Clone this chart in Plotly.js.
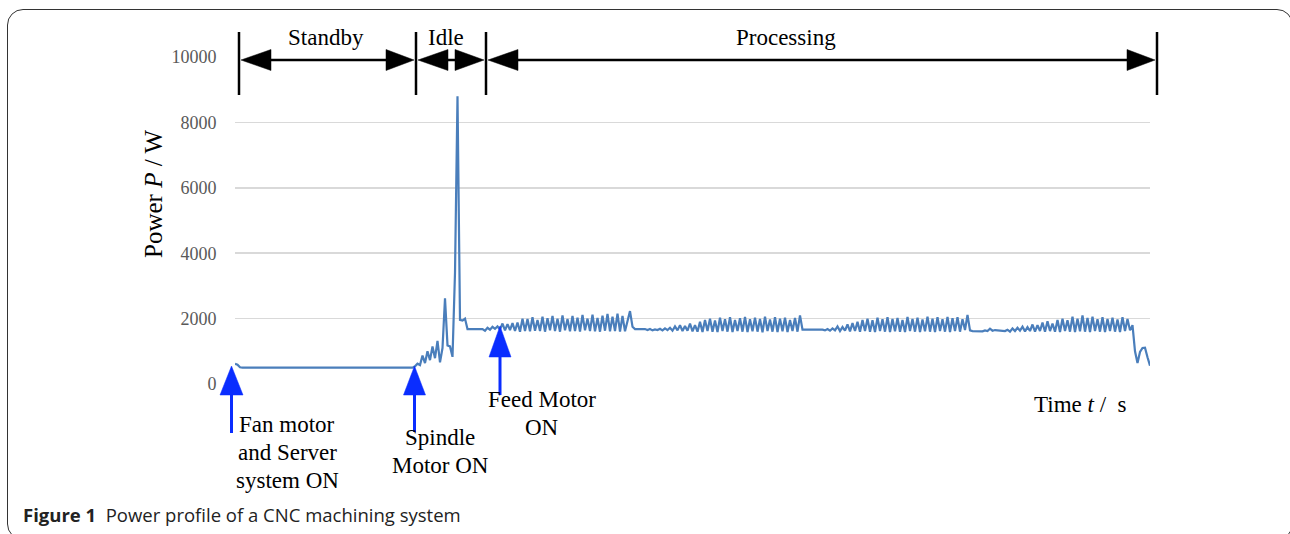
<!DOCTYPE html>
<html>
<head>
<meta charset="utf-8">
<script src="https://cdn.plot.ly/plotly-3.0.1.min.js"></script>
<style>
  html, body { margin:0; padding:0; background:#fff; overflow:hidden; }
  #wrap { position:relative; width:1290px; height:534px; }
  #chart { position:absolute; left:0; top:0; width:1290px; height:534px; }
  #frame { position:absolute; left:7px; top:9px; width:1286px; height:531px; box-sizing:border-box;
           border:1.5px solid #333; border-radius:16px; pointer-events:none; }
</style>
</head>
<body>
<div id="wrap">
  <div id="chart"></div>
  <div id="frame"></div>
</div>
<script>
// ---- data (time index in seconds-steps, power in W) ----
const standbyTime  = [0, 1, 2, 3, 71];
const standbyPower = [620, 590, 510, 500, 500];

const idleTime  = [72, 73, 74, 75, 76, 77, 78, 79, 80, 81, 82, 83, 84, 85, 86, 87, 88, 89, 90, 91, 92, 93, 99];
const idlePower = [540, 620, 580, 870, 640, 1000, 730, 1150, 790, 1320, 660, 1100, 2620, 1180, 1150, 830, 3400, 8800, 1960, 1940, 2000, 1680, 1680];

const proc1Time  = [100,101,102,103,104,105,106,107,108,109,110,111,112,113,114,115,116,117,118,119,120,121,122,123,124,125,126,127,128,129,130,131,132,133,134,135,136,137,138,139,140,141,142,143,144,145,146,147,148,149,150,151,152,153,154,155,156,157,158,159,160,164];
const proc1Power = [1630,1720,1660,1750,1690,1760,1670,1850,1640,1830,1650,1860,1620,1880,1600,2000,1620,1990,1610,2040,1630,1960,1620,2060,1600,2010,1640,2080,1620,2000,1600,2100,1640,1990,1610,2080,1620,2030,1600,2110,1640,2000,1620,2120,1610,2020,1600,2090,1630,2140,1610,2060,1620,2150,1600,2080,1610,1900,2230,1750,1680,1680];

const proc2Time  = [165,166,167,168,169,170,171,172,173,174,175,176,177,178,179,180,181,182,183,184,185,186,187,188,189,190,191,192,193,194,195,196,197,198,199,200,201,202,203,204,205,206,207,208,209,210,211,212,213,214,215,216,217,218,219,220,221,222,223,224,225,226,227,235];
const proc2Power = [1650,1680,1640,1670,1650,1690,1640,1700,1650,1720,1630,1760,1640,1800,1620,1770,1630,1850,1610,1800,1600,1900,1590,1960,1620,2000,1600,1940,1590,2030,1620,1980,1600,2040,1590,1960,1620,2010,1600,2050,1590,1980,1610,2030,1600,1990,1580,2060,1620,1970,1600,2040,1590,2000,1610,2030,1590,1960,1620,2020,1600,2100,1660,1660];

const proc3Time  = [236,237,238,239,240,241,242,243,244,245,246,247,248,249,250,251,252,253,254,255,256,257,258,259,260,261,262,263,264,265,266,267,268,269,270,271,272,273,274,275,276,277,278,279,280,281,282,283,284,285,286,287,288,289,290,291,292,293,294,295,298,299,300,301,302,303,304,305,306,308];
const proc3Power = [1640,1680,1630,1700,1640,1760,1620,1740,1630,1820,1610,1860,1620,1900,1600,1960,1620,2000,1600,1950,1590,2030,1620,1980,1600,2040,1590,1990,1610,2020,1600,1960,1590,2050,1620,1990,1600,2030,1590,1970,1610,2060,1600,2000,1590,2040,1620,1980,1600,2050,1590,2010,1620,2040,1600,1980,1650,2110,1640,1620,1620,1610,1640,1620,1690,1630,1650,1640,1630,1620];

const proc4Time  = [309,310,311,312,313,314,315,316,317,318,319,320,321,322,323,324,325,326,327,328,329,330,331,332,333,334,335,336,337,338,339,340,341,342,343,344,345,346,347,348,349,350,351,352,353,354,355,356,357,358,359,360,361,362,363,364,365,366];
const proc4Power = [1660,1600,1700,1620,1720,1630,1750,1610,1740,1620,1820,1600,1800,1620,1880,1600,1920,1620,1850,1600,1960,1590,2000,1620,1950,1600,2060,1590,2000,1610,2100,1600,2020,1590,2060,1620,1980,1600,2040,1590,1990,1620,2030,1600,1970,1590,2040,1620,1990,1640,1800,1000,640,980,1100,1110,820,560];

const timeAll  = [].concat(standbyTime, idleTime, proc1Time, proc2Time, proc3Time, proc4Time);
const powerAll = [].concat(standbyPower, idlePower, proc1Power, proc2Power, proc3Power, proc4Power);

const yTicks = [0, 2000, 4000, 6000, 8000, 10000];
const phaseLabels = ["Standby", "Idle", "Processing"];
const eventLabels = [["Fan motor", "and Server", "system ON"], ["Spindle", "Motor ON"], ["Feed Motor", "ON"]];

// ---- geometry helpers (pixel -> paper) ----
const L = 235, R = 1150, T = 57, B = 384;
const px = x => (x - L) / (R - L);
const py = y => (B - y) / (B - T);

const serif = "Liberation Serif, Times New Roman, serif";
const shapes = [];
function line(x0, y0, x1, y1, color, w) {
  shapes.push({type:'line', xref:'paper', yref:'paper', x0:px(x0), y0:py(y0), x1:px(x1), y1:py(y1),
               line:{color:color, width:w}, layer:'above'});
}
function tri(points, color) {
  const d = 'M ' + points.map(p => px(p[0]) + ',' + py(p[1])).join(' L ') + ' Z';
  shapes.push({type:'path', xref:'paper', yref:'paper', path:d, fillcolor:color, line:{color:color, width:0.5}, layer:'above'});
}

// dimension arrows at top
const bars = [239, 416, 486, 1157];
bars.forEach(x => line(x, 32, x, 95, '#000', 2.5));
const ay = 60, hh = 10.5;
// standby
line(265, ay, 392, ay, '#000', 2.5);
tri([[241, ay], [271, ay - hh], [271, ay + hh]], '#000');
tri([[414, ay], [386, ay - hh], [386, ay + hh]], '#000');
// idle
line(440, ay, 462, ay, '#000', 2.5);
tri([[418, ay], [448, ay - hh], [448, ay + hh]], '#000');
tri([[484, ay], [455, ay - hh], [455, ay + hh]], '#000');
// processing
line(512, ay, 1132, ay, '#000', 2.5);
tri([[488, ay], [518, ay - hh], [518, ay + hh]], '#000');
tri([[1155, ay], [1127, ay - hh], [1127, ay + hh]], '#000');

// blue event arrows
const blue = '#0a2dff';
line(231.5, 393, 231.5, 433, blue, 3);
tri([[231.5, 366], [220, 395], [243, 395]], blue);
line(414.5, 393, 414.5, 432, blue, 3);
tri([[414.5, 366], [403.5, 395], [425.5, 395]], blue);
line(500, 355, 500, 395, blue, 3);
tri([[500, 326], [489, 357], [511, 357]], blue);

// annotations
const annotations = [];
function txt(text, x, y, size, extra) {
  annotations.push(Object.assign({text:text, xref:'paper', yref:'paper', x:px(x), y:py(y),
    xanchor:'center', yanchor:'middle', showarrow:false,
    font:{family:serif, size:size, color:'#000'}}, extra || {}));
}
txt(phaseLabels[0], 326, 37, 23);
txt(phaseLabels[1], 446, 37, 23);
txt(phaseLabels[2], 786, 37, 23);
txt(eventLabels[0][0], 287, 424, 23);
txt(eventLabels[0][1], 287, 452, 23);
txt(eventLabels[0][2], 287, 480, 23);
txt(eventLabels[1][0], 440, 438, 23);
txt(eventLabels[1][1], 440, 465, 23);
txt(eventLabels[2][0], 542, 399, 23);
txt(eventLabels[2][1], 542, 427, 23);
txt('Time <i>t</i> /  s', 1080, 404, 23);
txt('Power <i>P</i> / W', 153, 194, 25, {textangle:-90});
annotations.push({text:'<b>Figure 1</b>&nbsp; Power profile of a CNC machining system', xref:'paper', yref:'paper',
  x:px(21), y:py(514), xanchor:'left', yanchor:'middle', showarrow:false,
  font:{family:'Open Sans, Noto Sans, sans-serif', size:18.5, color:'#222'}});

const data = [{
  type:'scatter', mode:'lines', x:timeAll, y:powerAll,
  line:{color:'#4a7ebb', width:2.2}, hoverinfo:'skip'
}];

const layout = {
  width:1290, height:534,
  margin:{l:L, r:1290 - R, t:T, b:534 - B, pad:0},
  paper_bgcolor:'#fff', plot_bgcolor:'#fff',
  showlegend:false,
  xaxis:{range:[0, 366], showgrid:false, zeroline:false, showline:false, showticklabels:false, ticks:''},
  yaxis:{range:[0, 10000], tickvals:yTicks, ticktext:yTicks.map(String),
         showgrid:true, gridcolor:'#d9d9d9', gridwidth:1.5, zeroline:false, showline:false,
         ticks:'outside', ticklen:14, tickcolor:'rgba(0,0,0,0)',
         tickfont:{family:serif, size:18, color:'#595959'}},
  shapes:shapes,
  annotations:annotations
};

Plotly.newPlot('chart', data, layout, {staticPlot:true, displayModeBar:false});
</script>
</body>
</html>
